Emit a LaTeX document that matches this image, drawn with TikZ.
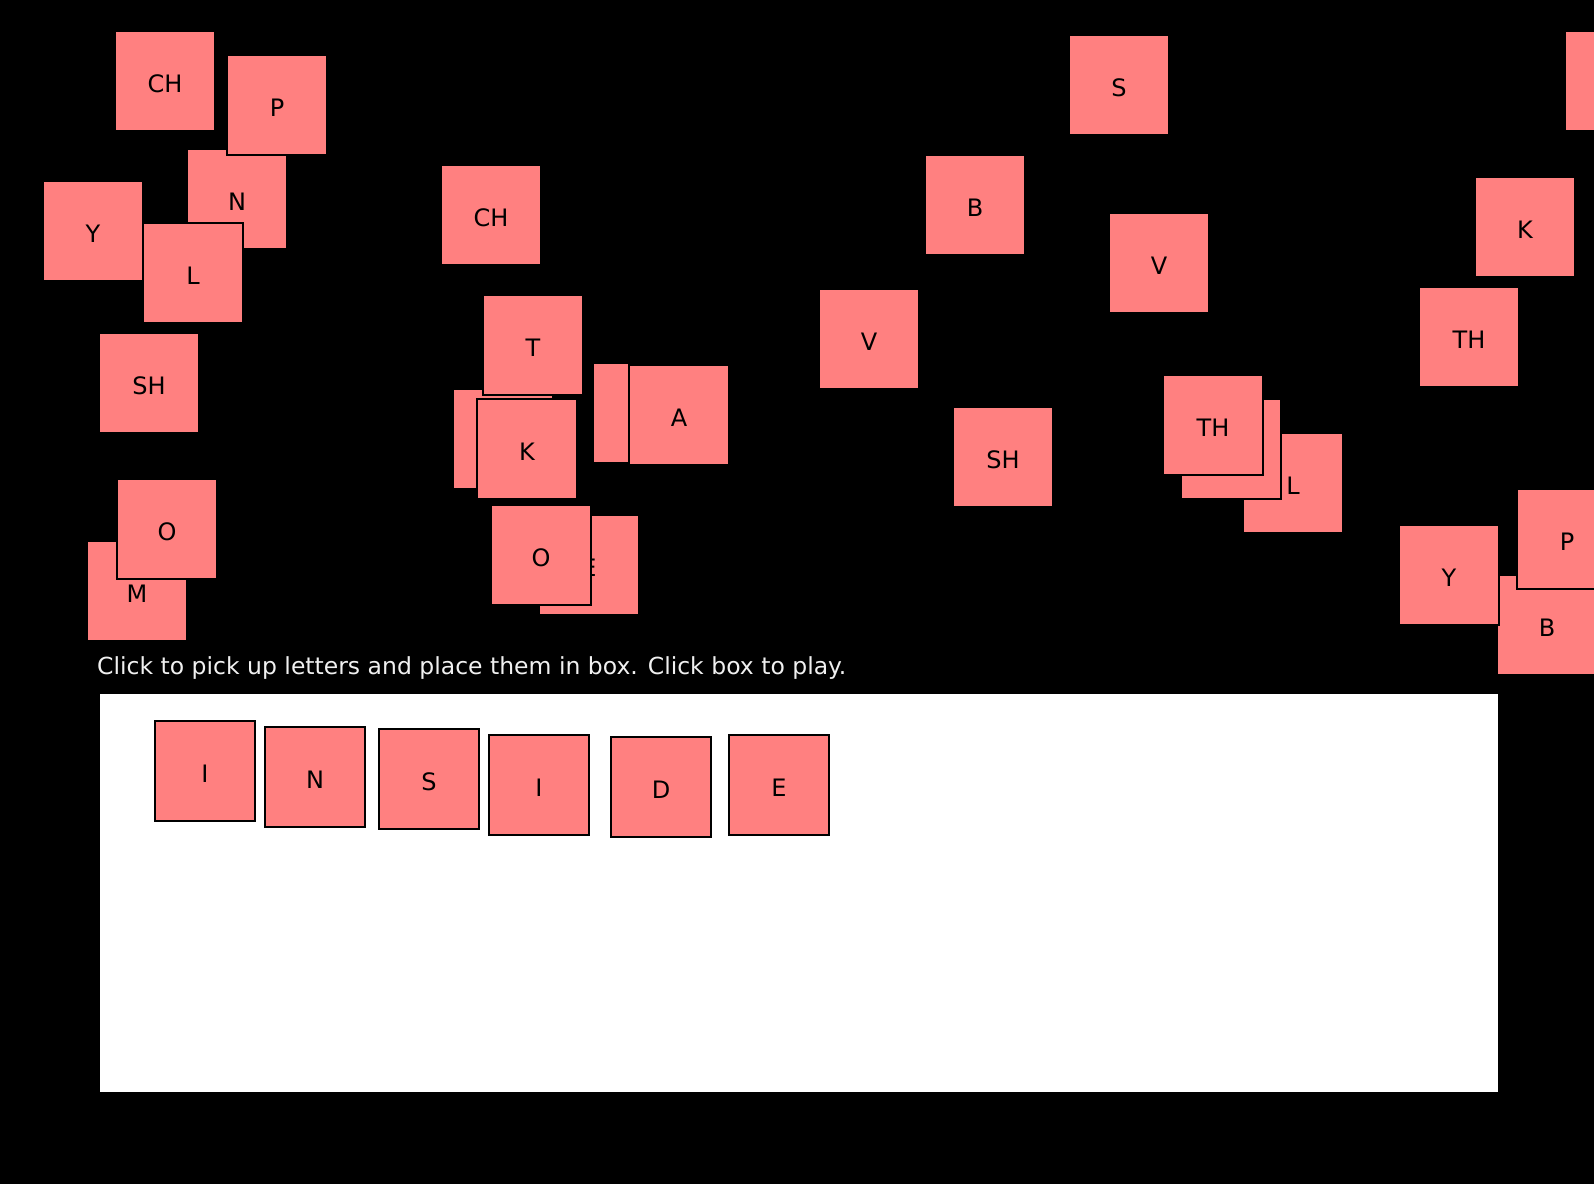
\documentclass[tikz,border=0pt]{standalone}
\usepackage{fontspec}
\setmainfont{DejaVu Sans}
\definecolor{tilepink}{RGB}{255,128,128}
\definecolor{hinttext}{RGB}{240,240,240}
\begin{document}
\begin{tikzpicture}[x=1pt,y=-1pt,
  lettertile/.style={draw=black, line width=2pt, fill=tilepink, minimum size=100pt,
    inner sep=0pt, text=black, text height=22.5pt, text depth=0pt,
    font=\fontsize{24}{28}\selectfont},
  hint/.style={anchor=base west, inner sep=0pt, text=hinttext, font=\fontsize{23.5}{27}\selectfont},
  playbox/.style={fill=white, draw=none}]
\useasboundingbox (0,0) rectangle (1594,1184);
\fill[black] (0,0) rectangle (1594,1184);
\clip (0,0) rectangle (1594,1184);
% upper-left group
\node[lettertile] (ch1) at (165,81) {CH};
\node[lettertile] (n1) at (237,199) {N};
\node[lettertile] (p1) at (277,105) {P};
\node[lettertile] (y1) at (93,231) {Y};
\node[lettertile] (l1) at (193,273) {L};
\node[lettertile] (sh1) at (149,383) {SH};
\node[lettertile] (m1) at (137,591) {M};
\node[lettertile] (o1) at (167,529) {O};
% middle-left group
\node[lettertile] (ch2) at (491,215) {CH};
\node[lettertile] (hid1) at (503,439) {};
\node[lettertile] (t1) at (533,345) {T};
\node[lettertile] (k1) at (527,449) {K};
\node[lettertile] (hid2) at (643,413) {};
\node[lettertile] (a1) at (679,415) {A};
\node[lettertile] (e1) at (589,565) {E};
\node[lettertile] (o2) at (541,555) {O};
% middle group
\node[lettertile] (b1) at (975,205) {B};
\node[lettertile] (s1) at (1119,85) {S};
\node[lettertile] (v1) at (869,339) {V};
\node[lettertile] (v2) at (1159,263) {V};
\node[lettertile] (sh2) at (1003,457) {SH};
\node[lettertile] (l2) at (1293,483) {L};
\node[lettertile] (hid3) at (1231,449) {};
\node[lettertile] (th2) at (1213,425) {TH};
% right group
\node[lettertile] (hid4) at (1615,81) {};
\node[lettertile] (k2) at (1525,227) {K};
\node[lettertile] (th1) at (1469,337) {TH};
\node[lettertile] (b2) at (1547,625) {B};
\node[lettertile] (y2) at (1449,575) {Y};
\node[lettertile] (p2) at (1567,539) {P};
% instruction
\node[hint] (hinttxt) at (97,674) {Click to pick up letters and place them in box. Click box to play.};
% play box
\fill[playbox] (100,694) rectangle (1498,1092);
\node[lettertile] (w1) at (205,771) {I};
\node[lettertile] (w2) at (315,777) {N};
\node[lettertile] (w3) at (429,779) {S};
\node[lettertile] (w4) at (539,785) {I};
\node[lettertile] (w5) at (661,787) {D};
\node[lettertile] (w6) at (779,785) {E};
\end{tikzpicture}
\end{document}
